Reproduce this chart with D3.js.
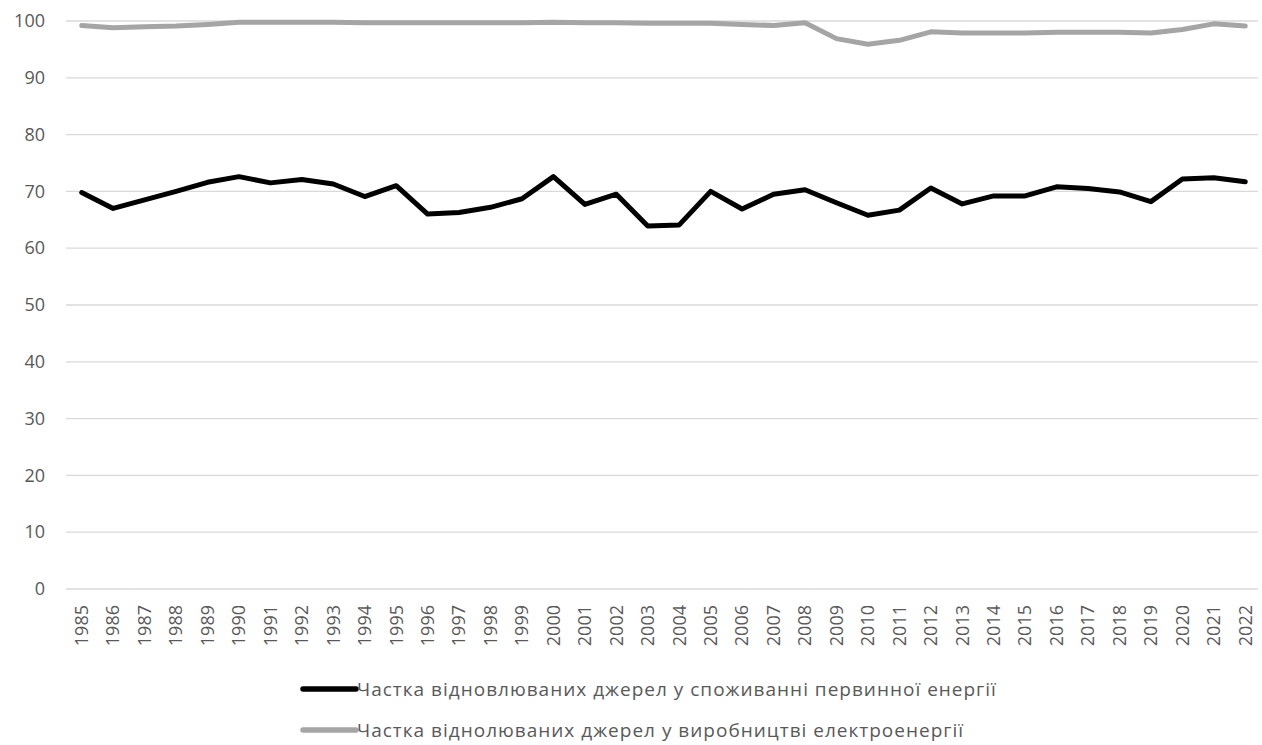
<!DOCTYPE html>
<html>
<head>
<meta charset="utf-8">
<script src="https://cdn.jsdelivr.net/npm/d3@7/dist/d3.min.js"></script>
<style>
  html, body { margin: 0; padding: 0; background: #fff; }
  svg { display: block; }
  text { font-family: "Open Sans", "Noto Sans", sans-serif; fill: #595959; }
</style>
</head>
<body>
<svg id="chart" width="1262" height="745"></svg>
<script>
// Years on the category axis
const years = d3.range(1985, 2023).map(String);

// Share of renewables in primary energy consumption, %
const primaryShare = [
  69.8, 67.0, 68.5, 70.0, 71.6, 72.6, 71.5, 72.1, 71.3, 69.1,
  71.0, 66.0, 66.3, 67.2, 68.7, 72.6, 67.7, 69.5, 63.9, 64.1,
  70.0, 66.9, 69.5, 70.3, 68.0, 65.8, 66.7, 70.6, 67.8, 69.2,
  69.2, 70.8, 70.5, 69.9, 68.2, 72.2, 72.4, 71.7
];

// Share of renewables in electricity generation, %
const electricityShare = [
  99.2, 98.8, 99.0, 99.1, 99.4, 99.8, 99.8, 99.8, 99.8, 99.7,
  99.7, 99.7, 99.7, 99.7, 99.7, 99.8, 99.7, 99.7, 99.6, 99.6,
  99.6, 99.4, 99.2, 99.7, 96.9, 95.9, 96.6, 98.1, 97.9, 97.9,
  97.9, 98.0, 98.0, 98.0, 97.9, 98.5, 99.5, 99.1
];

const yTicks = [0, 10, 20, 30, 40, 50, 60, 70, 80, 90, 100];

const legendLabels = [
  "Частка відновлюваних джерел у споживанні первинної енергії",
  "Частка віднолюваних джерел у виробництві електроенергії"
];
const seriesColors = ["#000000", "#a5a5a5"];

const svg = d3.select("#chart");
const plot = { left: 66, right: 1261, top: 21, bottom: 589 };

const x = d3.scaleBand().domain(years).range([plot.left, plot.right]);
const y = d3.scaleLinear().domain([0, 100]).range([plot.bottom, plot.top]);

// Horizontal gridlines
svg.append("g")
  .selectAll("line")
  .data(yTicks)
  .join("line")
  .attr("x1", plot.left)
  .attr("x2", plot.right - 3)
  .attr("y1", d => y(d))
  .attr("y2", d => y(d))
  .attr("stroke", "#d9d9d9")
  .attr("stroke-width", 1.3);

// Y axis labels
const yAxis = d3.axisLeft(y).tickValues(yTicks).tickSize(0).tickPadding(0);
svg.append("g")
  .attr("transform", `translate(45,0)`)
  .call(yAxis)
  .call(g => g.select(".domain").remove())
  .call(g => g.selectAll("text")
    .attr("font-size", 18)
    .attr("fill", "#595959")
    .attr("font-family", "Open Sans"));

// X axis labels, rotated
const xAxis = d3.axisBottom(x).tickSize(0).tickPadding(0);
svg.append("g")
  .attr("transform", `translate(0,${plot.bottom + 16})`)
  .call(xAxis)
  .call(g => g.select(".domain").remove())
  .call(g => g.selectAll("text")
    .attr("font-size", 18)
    .attr("fill", "#595959")
    .attr("font-family", "Open Sans")
    .attr("text-anchor", "end")
    .attr("dy", "0.35em")
    .attr("transform", "rotate(-90)")
    .attr("x", 0)
    .attr("y", 0));

// Series lines
const line = d3.line()
  .x((d, i) => x(years[i]) + x.bandwidth() / 2)
  .y(d => y(d));

svg.append("path")
  .datum(electricityShare)
  .attr("d", line)
  .attr("fill", "none")
  .attr("stroke", seriesColors[1])
  .attr("stroke-width", 5)
  .attr("stroke-linejoin", "round")
  .attr("stroke-linecap", "round");

svg.append("path")
  .datum(primaryShare)
  .attr("d", line)
  .attr("fill", "none")
  .attr("stroke", seriesColors[0])
  .attr("stroke-width", 5)
  .attr("stroke-linejoin", "round")
  .attr("stroke-linecap", "round");

// Legend
const legend = svg.append("g");
const legendRows = [689, 730];
legendLabels.forEach((label, i) => {
  const row = legend.append("g").attr("transform", `translate(300,${legendRows[i]})`);
  row.append("line")
    .attr("x1", 3).attr("x2", 56)
    .attr("y1", 0).attr("y2", 0)
    .attr("stroke", seriesColors[i])
    .attr("stroke-width", 5.5)
    .attr("stroke-linecap", "round");
  row.append("text")
    .attr("x", 57)
    .attr("y", 0)
    .attr("dy", "0.35em")
    .attr("font-size", 19)
    .attr("letter-spacing", 1)
    .text(label);
});
</script>
</body>
</html>
